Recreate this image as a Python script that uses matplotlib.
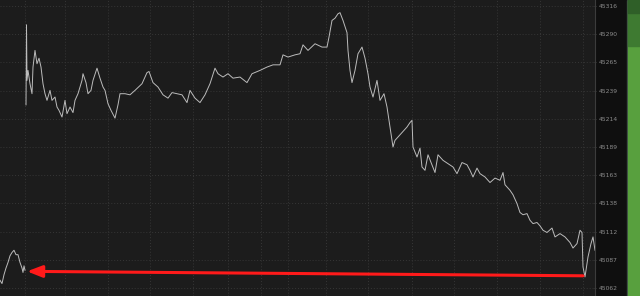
import numpy as np
import matplotlib.pyplot as plt
from matplotlib.patches import Rectangle

# previous session tail (left) and current session, time in minutes
prev_t = [0, 2, 4, 6, 8, 10, 12, 14, 16, 18, 20, 22, 23, 24, 25]
prev_p = [45069, 45066, 45074, 45080, 45085, 45091, 45094, 45096, 45092, 45092,
          45085, 45080, 45076, 45082, 45078]

sess_t = [26, 26.5, 27, 28, 30, 32, 33, 35, 37, 39, 41, 43, 45, 47, 50, 52, 55, 57,
          59, 62, 65, 67, 70, 73, 75, 78, 82, 83, 86, 88, 91, 93, 97, 100, 103, 105,
          108, 111, 115, 118, 120, 125, 130, 135, 142, 147, 149, 153, 158, 163, 168,
          172, 177, 182, 187, 190, 195, 200, 205, 210, 215, 218, 223, 228, 233, 240,
          247, 252, 260, 267, 273, 280, 283, 288, 295, 300, 303, 308, 315, 322, 327,
          329, 332, 335, 338, 340, 343, 347, 348, 350, 352, 355, 358, 362, 365, 368,
          370, 373, 377, 380, 384, 387, 390, 393, 395, 398, 402, 407, 410, 412, 413,
          417, 420, 422, 425, 428, 432, 435, 438, 443, 448, 453, 457, 462, 467, 470,
          473, 477, 480, 485, 490, 495, 500, 503, 505, 510, 513, 517, 520, 523, 527,
          530, 533, 537, 540, 543, 547, 552, 555, 560, 565, 570, 573, 577, 580, 582,
          583, 585, 588, 591, 593, 595]
sess_p = [45227, 45299, 45249, 45258, 45246, 45237, 45261, 45276, 45264, 45269,
          45261, 45246, 45237, 45231, 45240, 45231, 45234, 45225, 45222, 45216,
          45231, 45219, 45225, 45220, 45231, 45237, 45249, 45255, 45247, 45237,
          45240, 45249, 45260, 45251, 45243, 45240, 45228, 45222, 45215, 45227,
          45237, 45237, 45236, 45240, 45246, 45256, 45257, 45247, 45243, 45236,
          45233, 45238, 45237, 45236, 45229, 45240, 45233, 45229, 45236, 45246,
          45260, 45255, 45252, 45255, 45251, 45252, 45247, 45255, 45258, 45261,
          45263, 45263, 45272, 45270, 45272, 45273, 45281, 45276, 45282, 45279,
          45279, 45288, 45303, 45305, 45309, 45310, 45303, 45292, 45276, 45258,
          45247, 45258, 45273, 45279, 45269, 45255, 45243, 45234, 45249, 45231,
          45237, 45225, 45207, 45189, 45195, 45198, 45202, 45207, 45211, 45213,
          45189, 45180, 45188, 45171, 45168, 45182, 45173, 45166, 45182, 45177,
          45174, 45171, 45165, 45175, 45173, 45168, 45162, 45170, 45165, 45162,
          45157, 45161, 45159, 45166, 45155, 45150, 45146, 45138, 45130, 45128,
          45129, 45123, 45120, 45121, 45118, 45114, 45112, 45116, 45108, 45111,
          45108, 45103, 45098, 45102, 45114, 45112, 45081, 45072, 45090, 45102,
          45108, 45096]

# arrow drawn on the chart (from right to left)
arrow_t = [583, 27]
arrow_p = [45073, 45077]

yticks = np.linspace(45062, 45316, 11)
xgrid = [25, 65, 108, 150, 193, 228, 261, 288, 326, 368, 412, 454, 497, 540, 583]

fig = plt.figure(figsize=(6.4, 2.96), dpi=100, facecolor='#0f0f0f')
ax = fig.add_axes([0, 0, 595 / 640, 1])
ax.set_facecolor('#1c1c1c')

ax.plot(prev_t, prev_p, color='#bcbcbc', lw=0.7)
ax.plot(sess_t, sess_p, color='#bcbcbc', lw=0.7)

ax.annotate('', xy=(arrow_t[1], arrow_p[1]), xytext=(arrow_t[0], arrow_p[0]),
            arrowprops=dict(arrowstyle='-|>,head_length=0.9,head_width=0.35',
                            color='#ff1a1a', lw=2.2, shrinkA=0, shrinkB=0))

ax.set_xlim(0, 595)
ax.set_ylim(45054.8, 45321.4)
ax.set_xticks(xgrid)
ax.set_yticks(yticks)
ax.set_yticklabels([str(int(v)) for v in yticks])
ax.yaxis.tick_right()
ax.tick_params(axis='y', colors='#4a4a4a', labelcolor='#8c8c8c', labelsize=4.3,
               length=2, width=0.6, pad=1.5, direction='inout')
ax.tick_params(axis='x', length=0, labelbottom=False)
ax.grid(True, color='#363636', lw=0.7, ls=(0, (1, 2)))
for s in ['top', 'left', 'bottom']:
    ax.spines[s].set_visible(False)
ax.spines['right'].set_color('#3c3c3c')
ax.spines['right'].set_linewidth(0.8)

# side panel at the right edge
W, H = 640, 296
fig.patches.append(Rectangle((627 / W, 0), 1 / W, 1, transform=fig.transFigure,
                             color='#3a3f44', zorder=0))
fig.patches.append(Rectangle((628 / W, 0), 12 / W, 1, transform=fig.transFigure,
                             color='#58a03e', zorder=0))
fig.patches.append(Rectangle((628 / W, 1 - 46 / H), 12 / W, 46 / H,
                             transform=fig.transFigure, color='#3e7a31', zorder=0))
fig.patches.append(Rectangle((628 / W, 1 - 13 / H), 12 / W, 13 / H,
                             transform=fig.transFigure, color='#2f5f28', zorder=0))

fig.savefig('out.png', dpi=100, facecolor=fig.get_facecolor())
